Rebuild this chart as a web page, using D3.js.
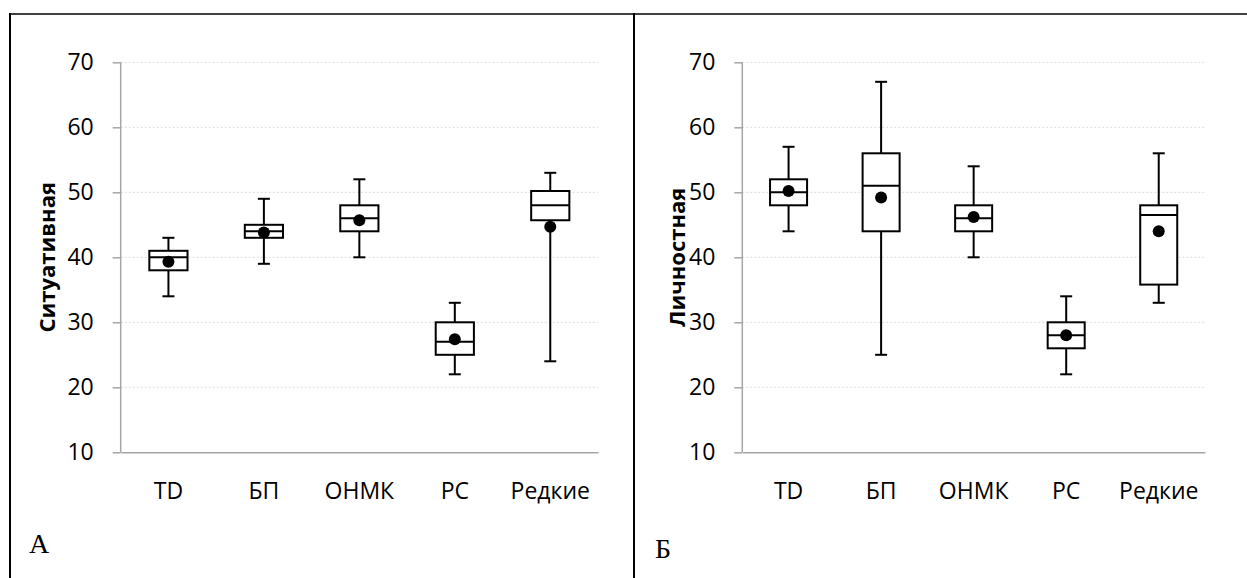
<!DOCTYPE html>
<html>
<head>
<meta charset="utf-8">
<script src="https://cdn.jsdelivr.net/npm/d3@7"></script>
<style>
  body { margin: 0; background: #fff; }
  svg { display: block; }
</style>
</head>
<body>
<script>
// categories + tick values
let categories = ["TD", "БП", "ОНМК", "РС", "Редкие"];
let yTicks = [10, 20, 30, 40, 50, 60, 70];

// A: Ситуативная
let sitMin  = [34, 39, 40, 22, 24];
let sitQ1   = [38, 43, 44, 25, 45.7];
let sitMed  = [40, 44, 46, 27, 48];
let sitQ3   = [41, 45, 48, 30, 50.2];
let sitMax  = [43, 49, 52, 33, 53];
let sitMean = [39.3, 43.8, 45.7, 27.4, 44.7];

// Б: Личностная
let persMin  = [44, 25, 40, 22, 33];
let persQ1   = [48, 44, 44, 26, 35.8];
let persMed  = [50, 51, 46, 28, 46.5];
let persQ3   = [52, 56, 48, 30, 48];
let persMax  = [57, 67, 54, 34, 56];
let persMean = [50.2, 49.2, 46.2, 28, 44];

let W = 1247, H = 578;
let svg = d3.select("body").append("svg")
    .attr("width", W)
    .attr("height", H);

let tickFont = "'Open Sans', 'DejaVu Sans', sans-serif";
let axisGrey = "#a6a6a6";

// frame round the two panels
let frame = svg.append("g").attr("stroke", "#000").attr("fill", "none");
frame.append("line").attr("x1", 9).attr("x2", W).attr("y1", 14).attr("y2", 14).attr("stroke-width", 1.5);
frame.append("line").attr("x1", 10).attr("x2", 10).attr("y1", 13).attr("y2", H).attr("stroke-width", 2);
frame.append("line").attr("x1", 634).attr("x2", 634).attr("y1", 13).attr("y2", H).attr("stroke-width", 2);

function rows(mins, q1s, meds, q3s, maxs, means) {
    return categories.map((c, i) => ({
        cat: c, min: mins[i], q1: q1s[i], med: meds[i], q3: q3s[i], max: maxs[i], mean: means[i]
    }));
}

function drawPanel(opt) {
    let g = svg.append("g");
    let x = d3.scaleBand().domain(categories)
        .range([opt.left, opt.right])
        .paddingInner(0.6).paddingOuter(0.3);
    let y = d3.scaleLinear().domain([10, 70]).range([452.3, 62.3]);

    // gridlines
    g.append("g")
        .selectAll("line")
        .data(yTicks.slice(1))
        .join("line")
          .attr("x1", opt.left)
          .attr("x2", opt.right)
          .attr("y1", d => y(d))
          .attr("y2", d => y(d))
          .attr("stroke", "#d9d9d9")
          .attr("stroke-width", 1)
          .attr("stroke-dasharray", "2,2");

    // y axis
    let ya = g.append("g")
        .attr("transform", `translate(${opt.left},0)`)
        .call(d3.axisLeft(y).tickValues(yTicks).tickSize(8).tickPadding(19));
    ya.select(".domain").attr("stroke", axisGrey).attr("stroke-width", 1.5)
        .attr("d", `M0,${y(70)}V${y(10)}`);
    ya.selectAll(".tick line").attr("stroke", axisGrey).attr("stroke-width", 1.5);
    ya.selectAll(".tick text")
        .attr("fill", "#000")
        .style("font-family", tickFont)
        .style("font-size", "23px");

    // x axis
    let xa = g.append("g")
        .attr("transform", `translate(0,${y(10)})`)
        .call(d3.axisBottom(x).tickSize(0).tickPadding(30));
    xa.select(".domain").attr("stroke", axisGrey).attr("stroke-width", 1.5);
    xa.selectAll(".tick text")
        .attr("fill", "#000")
        .style("font-family", tickFont)
        .style("font-size", "23px");

    // y title
    g.append("text")
        .attr("transform", `translate(${opt.titleX},${(y(10) + y(70)) / 2}) rotate(-90)`)
        .attr("text-anchor", "middle")
        .style("font-family", tickFont)
        .style("font-size", "22px")
        .style("font-weight", "bold")
        .text(opt.title);

    // boxes
    let bw = x.bandwidth();
    let cap = 12;
    let boxes = g.append("g")
        .attr("stroke", "#000")
        .attr("stroke-width", 2)
        .selectAll("g")
        .data(opt.data)
        .join("g")
          .attr("transform", d => `translate(${x(d.cat) + bw / 2},0)`);

    boxes.append("line")
        .attr("y1", d => y(d.max)).attr("y2", d => y(d.q3));
    boxes.append("line")
        .attr("y1", d => y(d.q1)).attr("y2", d => y(d.min));
    boxes.append("line")
        .attr("x1", -cap / 2).attr("x2", cap / 2)
        .attr("y1", d => y(d.max)).attr("y2", d => y(d.max));
    boxes.append("line")
        .attr("x1", -cap / 2).attr("x2", cap / 2)
        .attr("y1", d => y(d.min)).attr("y2", d => y(d.min));
    boxes.append("rect")
        .attr("x", -bw / 2)
        .attr("width", bw)
        .attr("y", d => y(d.q3))
        .attr("height", d => y(d.q1) - y(d.q3))
        .attr("fill", "#fff");
    boxes.append("line")
        .attr("x1", -bw / 2).attr("x2", bw / 2)
        .attr("y1", d => y(d.med)).attr("y2", d => y(d.med));
    boxes.append("circle")
        .attr("cy", d => y(d.mean))
        .attr("r", 6)
        .attr("fill", "#000")
        .attr("stroke", "none");

    // panel letter
    svg.append("text")
        .attr("x", opt.letterX)
        .attr("y", opt.letterY)
        .style("font-family", "'Liberation Serif', 'DejaVu Serif', serif")
        .style("font-size", "28px")
        .text(opt.letter);
}

drawPanel({
    left: 120.7, right: 598,
    title: "Ситуативная", titleX: 55,
    data: rows(sitMin, sitQ1, sitMed, sitQ3, sitMax, sitMean),
    letter: "А", letterX: 29, letterY: 553
});

drawPanel({
    left: 742.3, right: 1205,
    title: "Личностная", titleX: 685,
    data: rows(persMin, persQ1, persMed, persQ3, persMax, persMean),
    letter: "Б", letterX: 655, letterY: 558
});
</script>
</body>
</html>
